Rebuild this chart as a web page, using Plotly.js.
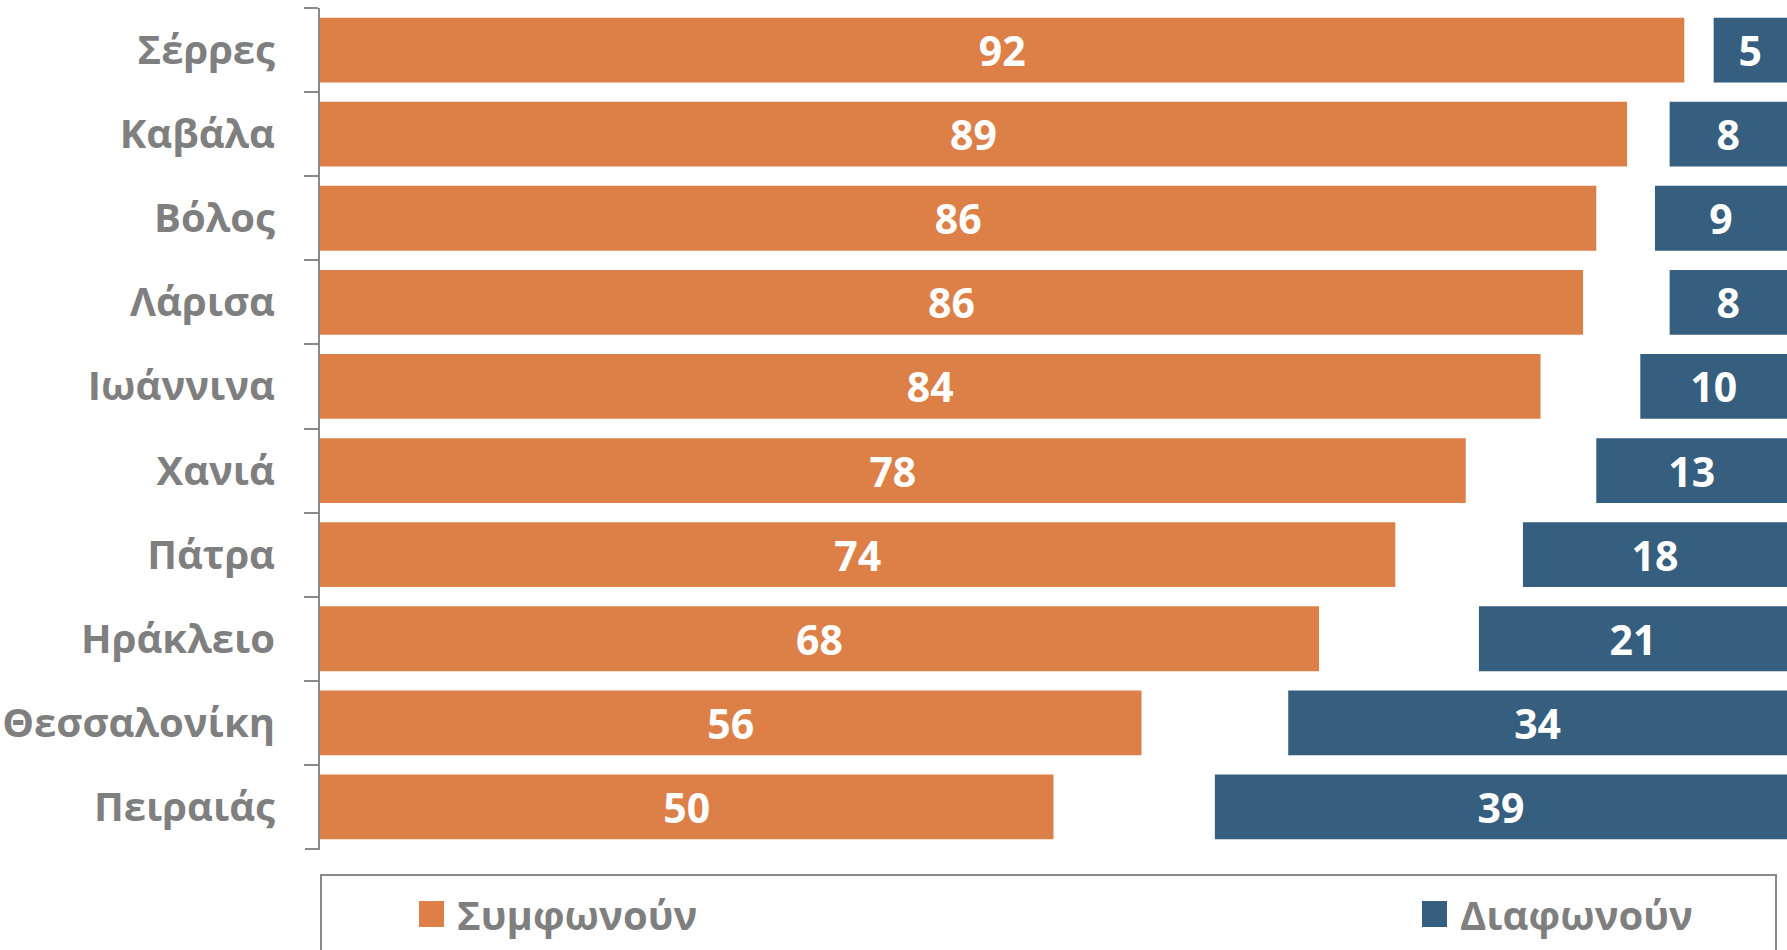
<!DOCTYPE html>
<html>
<head>
<meta charset="utf-8">
<script src="https://cdn.plot.ly/plotly-3.0.1.min.js"></script>
<style>html,body{margin:0;padding:0;background:#fff;}#chart{width:1787px;height:950px;}</style>
</head>
<body>
<div id="chart"></div>
<script>
// Categories (top to bottom)
const cities = ["Σέρρες","Καβάλα","Βόλος","Λάρισα","Ιωάννινα","Χανιά","Πάτρα","Ηράκλειο","Θεσσαλονίκη","Πειραιάς"];
// Agree: bar lengths as drawn, and the printed labels
const agree = [93, 89.1, 87, 86.1, 83.2, 78.1, 73.3, 68.1, 56, 50];
const agreeLabels = ["92","89","86","86","84","78","74","68","56","50"];
// Disagree (drawn from the right end, 100)
const disagree = [5, 8, 9, 8, 10, 13, 18, 21, 34, 39];
const seriesNames = ["Συμφωνούν","Διαφωνούν"];

const ORANGE = "#DD8047", BLUE = "#365E7E", GREY = "#7F7F7F", AXIS = "#898989";
const FONT = "Open Sans, Noto Sans, DejaVu Sans, sans-serif";

const traces = [
  {
    type: "bar", orientation: "h", name: seriesNames[0],
    y: cities, x: agree, base: 0,
    text: agreeLabels, textposition: "inside", insidetextanchor: "middle",
    constraintext: "none", cliponaxis: false,
    textfont: {family: FONT, size: 41, color: "#FFFFFF", weight: 700},
    marker: {color: ORANGE}, showlegend: false, hoverinfo: "skip"
  },
  {
    type: "bar", orientation: "h", name: seriesNames[1],
    y: cities, x: disagree, base: disagree.map(d => 100 - d),
    text: disagree.map(String), textposition: "inside", insidetextanchor: "middle",
    constraintext: "none", cliponaxis: false,
    textfont: {family: FONT, size: 41, color: "#FFFFFF", weight: 700},
    marker: {color: BLUE}, showlegend: false, hoverinfo: "skip"
  }
];

// pixel -> paper helpers (plot area: x 320..1787, y 8..849)
const L = 320, R = 1787, T = 8, B = 849;
const px = v => (v - L) / (R - L);
const py = v => (B - v) / (B - T);

const layout = {
  width: 1787, height: 950,
  margin: {l: L, r: 1787 - R, t: T, b: 950 - B, pad: 0},
  paper_bgcolor: "#FFFFFF", plot_bgcolor: "#FFFFFF",
  barmode: "overlay", bargap: 0.23,
  showlegend: false,
  xaxis: {range: [0, 100], visible: false, fixedrange: true},
  yaxis: {
    autorange: "reversed", type: "category",
    showline: true, linecolor: AXIS, linewidth: 2,
    ticks: "outside", tickson: "boundaries", ticklen: 14, tickwidth: 2, tickcolor: AXIS,
    ticklabelstandoff: 35,
    tickfont: {family: FONT, size: 40, color: GREY, weight: 700},
    showgrid: false, zeroline: false, fixedrange: true
  },
  shapes: [
    {type: "line", xref: "paper", yref: "paper",
     x0: px(305), x1: px(320), y0: 0, y1: 0,
     line: {color: AXIS, width: 2}},
    {type: "rect", xref: "paper", yref: "paper",
     x0: px(321), x1: px(1776), y0: py(875), y1: py(1000),
     line: {color: AXIS, width: 2}, fillcolor: "rgba(0,0,0,0)", layer: "below"},
    {type: "rect", xref: "paper", yref: "paper",
     x0: px(419), x1: px(444), y0: py(901), y1: py(927),
     line: {width: 0}, fillcolor: ORANGE},
    {type: "rect", xref: "paper", yref: "paper",
     x0: px(1422), x1: px(1447), y0: py(901), y1: py(927),
     line: {width: 0}, fillcolor: BLUE}
  ],
  annotations: [
    {xref: "paper", yref: "paper", x: px(455), y: py(914), xanchor: "left", yanchor: "middle",
     text: seriesNames[0], showarrow: false,
     font: {family: FONT, size: 40, color: GREY, weight: 700}},
    {xref: "paper", yref: "paper", x: px(1458), y: py(914), xanchor: "left", yanchor: "middle",
     text: seriesNames[1], showarrow: false,
     font: {family: FONT, size: 40, color: GREY, weight: 700}}
  ]
};

Plotly.newPlot("chart", traces, layout, {displayModeBar: false, staticPlot: true});
</script>
</body>
</html>
